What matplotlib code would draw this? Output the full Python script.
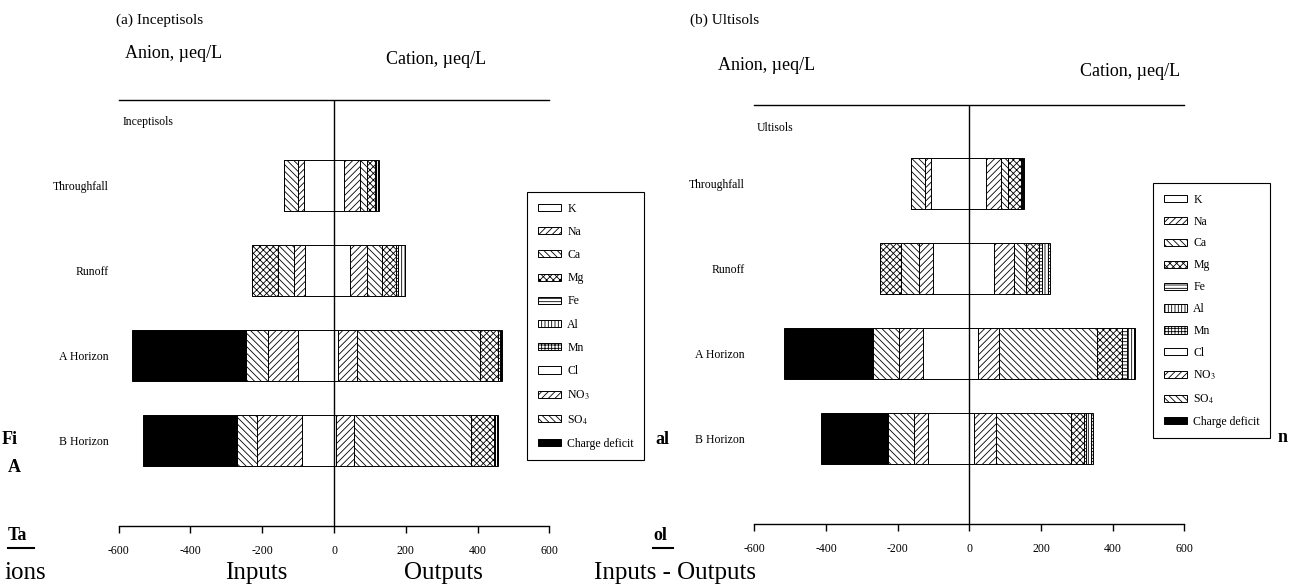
import matplotlib.pyplot as plt
from matplotlib.patches import Patch
from matplotlib.lines import Line2D

plt.rcParams['font.family'] = ['Liberation Serif', 'DejaVu Serif']
plt.rcParams['mathtext.fontset'] = 'stix'
plt.rcParams['hatch.linewidth'] = 0.6
plt.rcParams['axes.unicode_minus'] = False

sites = ["Throughfall", "Runoff", "A Horizon", "B Horizon"]
xticks = [-600, -400, -200, 0, 200, 400, 600]

# Inceptisols, ueq/L
inc_K = [28, 45, 11, 6]
inc_Na = [44, 47, 53, 50]
inc_Ca = [21, 42, 343, 327]
inc_Mg = [21, 38, 51, 63]
inc_Fe = [4, 6, 4, 3]
inc_Al = [4, 19, 4, 4]
inc_Mn = [4, 2, 3, 4]
inc_Cl = [84, 81, 100, 89]
inc_NO3 = [16, 31, 84, 126]
inc_SO4 = [40, 45, 60, 55]
inc_other = [0, 71, 0, 0]
inc_deficit = [0, 0, 318, 262]

# Ultisols, ueq/L
ult_K = [46, 68, 23, 14]
ult_Na = [43, 56, 60, 61]
ult_Ca = [18, 33, 274, 209]
ult_Mg = [37, 37, 70, 36]
ult_Fe = [3, 9, 14, 7]
ult_Al = [3, 18, 19, 12]
ult_Mn = [4, 3, 2, 7]
ult_Cl = [108, 100, 128, 116]
ult_NO3 = [16, 40, 67, 38]
ult_SO4 = [39, 52, 73, 74]
ult_other = [0, 57, 0, 0]
ult_deficit = [0, 0, 248, 187]

cation_hatch = ["", "/////", "\\\\\\\\\\", "xxxxx", "-----", "|||||", "+++++"]
anion_hatch = ["", "/////", "\\\\\\\\\\", "xxxxx", ""]
anion_color = ["white", "white", "white", "white", "black"]

legend_names = ["K", "Na", "Ca", "Mg", "Fe", "Al", "Mn", "Cl", "NO$_3$", "SO$_4$", "Charge deficit"]
legend_hatch = ["", "/////", "\\\\\\\\\\", "xxxxx", "-----", "|||||", "+++++",
                "", "/////", "\\\\\\\\\\", ""]

W, H = 1299, 586
fig = plt.figure(figsize=(W / 100, H / 100), dpi=100)


def px_axes(x0, x1, ytop, ybot):
    return fig.add_axes([x0 / W, 1 - ybot / H, (x1 - x0) / W, (ybot - ytop) / H])


def draw_panel(ax, cations, anions, ylim):
    ypos = list(range(len(sites)))
    left = [0] * len(sites)
    for vals, h in zip(cations, cation_hatch):
        ax.barh(ypos, vals, left=left, height=0.6, color="white",
                edgecolor="black", linewidth=0.7, hatch=h)
        left = [l + v for l, v in zip(left, vals)]
    left = [0] * len(sites)
    for vals, h, c in zip(anions, anion_hatch, anion_color):
        ax.barh(ypos, [-v for v in vals], left=left, height=0.6, color=c,
                edgecolor="black", linewidth=0.7, hatch=h)
        left = [l - v for l, v in zip(left, vals)]
    ax.axvline(0, color="black", lw=1.0)
    ax.set_xlim(-600, 600)
    ax.set_ylim(*ylim)
    ax.set_xticks(xticks)
    ax.set_xticklabels([str(t) for t in xticks], fontsize=8.5)
    ax.set_yticks(ypos)
    ax.set_yticklabels(sites, fontsize=8.5)
    ax.tick_params(axis="y", length=0, pad=7)
    ax.tick_params(axis="x", length=5, width=1.0, direction="out", pad=9)
    for s in ["left", "right"]:
        ax.spines[s].set_visible(False)
    ax.spines["top"].set_linewidth(1.0)
    ax.spines["bottom"].set_linewidth(1.0)
    ax.patch.set_alpha(0)


def add_legend(x, y, spacing):
    hs = []
    for n, h in zip(legend_names, legend_hatch):
        fc = "black" if n == "Charge deficit" else "white"
        hs.append(Patch(facecolor=fc, edgecolor="black", linewidth=0.7, hatch=h))
    leg = fig.legend(hs, legend_names, loc="upper left", bbox_to_anchor=(x / W, 1 - y / H),
                     fontsize=8.5, frameon=True, fancybox=False, edgecolor="black",
                     framealpha=1, borderaxespad=0, borderpad=0.9, labelspacing=spacing,
                     handlelength=2.0, handleheight=0.55, handletextpad=0.5)
    leg.get_frame().set_linewidth(0.8)


ax1 = px_axes(118.7, 549.3, 100, 525.7)
draw_panel(ax1, [inc_K, inc_Na, inc_Ca, inc_Mg, inc_Fe, inc_Al, inc_Mn],
           [inc_Cl, inc_NO3, inc_SO4, inc_other, inc_deficit], (4.0, -1.0))
ax2 = px_axes(754.3, 1184.3, 105, 524)
draw_panel(ax2, [ult_K, ult_Na, ult_Ca, ult_Mg, ult_Fe, ult_Al, ult_Mn],
           [ult_Cl, ult_NO3, ult_SO4, ult_other, ult_deficit], (4.01, -0.92))

add_legend(527, 192, 0.95)
add_legend(1153, 183, 0.84)

# panel titles and axis captions
fig.text(116 / W, 1 - 20 / H, "(a) Inceptisols", fontsize=11, va="center")
fig.text(125 / W, 1 - 53 / H, "Anion, \u00b5eq/L", fontsize=13, va="center")
fig.text(386 / W, 1 - 59 / H, "Cation, \u00b5eq/L", fontsize=13, va="center")
fig.text(123 / W, 1 - 122 / H, "Inceptisols", fontsize=8.5, va="center")
fig.text(690 / W, 1 - 20 / H, "(b) Ultisols", fontsize=11, va="center")
fig.text(718 / W, 1 - 65 / H, "Anion, \u00b5eq/L", fontsize=13, va="center")
fig.text(1080 / W, 1 - 72 / H, "Cation, \u00b5eq/L", fontsize=13, va="center")
fig.text(757 / W, 1 - 128 / H, "Ultisols", fontsize=8.5, va="center")

# fragments of the surrounding document text
fig.text(2 / W, 1 - 440 / H, "Fi", fontsize=13, weight="bold", va="center")
fig.text(8 / W, 1 - 468 / H, "A", fontsize=13, weight="bold", va="center")
fig.text(8 / W, 1 - 536 / H, "Ta", fontsize=13, weight="bold", va="center")
fig.text(655 / W, 1 - 440 / H, "al", fontsize=13, weight="bold", va="center")
fig.text(653 / W, 1 - 536 / H, "ol", fontsize=13, weight="bold", va="center")
fig.text(1278 / W, 1 - 437 / H, "n", fontsize=13, weight="bold", va="center")
fig.add_artist(Line2D([8 / W, 34 / W], [1 - 548 / H] * 2, color="black", lw=1.5))
fig.add_artist(Line2D([653 / W, 673 / W], [1 - 548 / H] * 2, color="black", lw=1.5))
fig.text(4 / W, 1 - 573 / H, "ions", fontsize=18, va="center")
fig.text(225 / W, 1 - 573 / H, "Inputs", fontsize=18, va="center")
fig.text(404 / W, 1 - 573 / H, "Outputs", fontsize=18, va="center")
fig.text(594 / W, 1 - 573 / H, "Inputs - Outputs", fontsize=18, va="center")

fig.savefig("out.png", dpi=100)
